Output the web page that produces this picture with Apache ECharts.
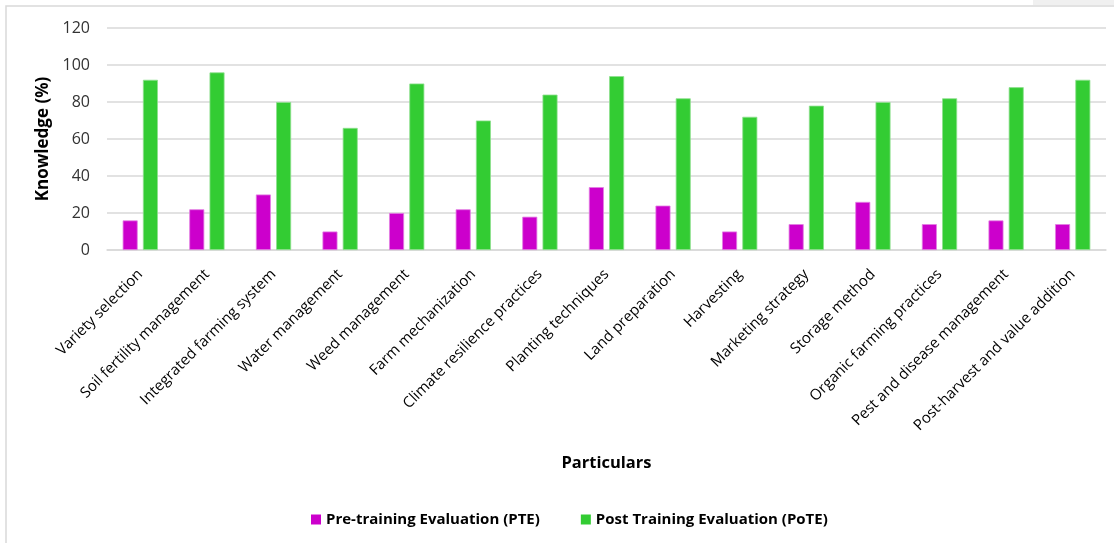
<!DOCTYPE html>
<html>
<head>
<meta charset="utf-8">
<script src="https://cdn.jsdelivr.net/npm/echarts@6/dist/echarts.min.js"></script>
<style>
  html, body { margin: 0; padding: 0; background: #fff; }
  #myChart { width: 1114px; height: 543px; }
</style>
</head>
<body>
<div id="myChart"></div>
<script>
const categories = ['Variety selection', 'Soil fertility management', 'Integrated farming system',
  'Water management', 'Weed management', 'Farm mechanization', 'Climate resilience practices',
  'Planting techniques', 'Land preparation', 'Harvesting', 'Marketing strategy', 'Storage method',
  'Organic farming practices', 'Pest and disease management', 'Post-harvest and value addition']
const pteValues = [16, 22, 30, 10, 20, 22, 18, 34, 24, 10, 14, 26, 14, 16, 14]
const poteValues = [92, 96, 80, 66, 90, 70, 84, 94, 82, 72, 78, 80, 82, 88, 92]
const seriesNames = ['Pre-training Evaluation (PTE)', 'Post Training Evaluation (PoTE)']

let myChart = echarts.init(document.getElementById('myChart'))
myChart.setOption({
  animation: false,
  textStyle: { fontFamily: 'Open Sans' },
  graphic: [
    {
      type: 'rect',
      shape: { x: 6, y: 6, width: 1130, height: 560 },
      style: { fill: 'none', stroke: '#d9d9d9', lineWidth: 1.5 },
      silent: true
    },
    {
      type: 'rect',
      shape: { x: 1033, y: 0, width: 90, height: 5 },
      style: { fill: '#f0f0f0' },
      silent: true
    }
  ],
  legend: {
    data: seriesNames,
    left: 306,
    top: 507,
    itemWidth: 10,
    itemHeight: 10,
    itemGap: 41,
    icon: 'rect',
    itemStyle: { borderWidth: 0 },
    textStyle: { color: '#000', fontSize: 15, fontWeight: 'bold', fontFamily: 'Open Sans' }
  },
  grid: {
    left: 107,
    right: 8,
    top: 28,
    bottom: 293
  },
  xAxis: {
    type: 'category',
    data: categories,
    name: 'Particulars',
    nameLocation: 'middle',
    nameGap: 205,
    nameTextStyle: { color: '#000', fontSize: 16.5, fontWeight: 'bold' },
    axisLine: { lineStyle: { color: '#d9d9d9', width: 1.5 } },
    axisTick: { show: false },
    axisLabel: { rotate: 45, margin: 22, color: '#000', fontSize: 15, interval: 0 }
  },
  yAxis: {
    type: 'value',
    min: 0,
    max: 120,
    interval: 20,
    name: 'Knowledge (%)',
    nameLocation: 'middle',
    nameGap: 55,
    nameTextStyle: { color: '#000', fontSize: 17, fontWeight: 'bold' },
    axisLine: { show: false },
    axisTick: { show: false },
    axisLabel: { color: '#333', fontSize: 16, margin: 17 },
    splitLine: { lineStyle: { color: '#d9d9d9', width: 1.5 } }
  },
  series: [
    {
      name: seriesNames[0],
      type: 'bar',
      barWidth: 15,
      barGap: '35%',
      itemStyle: { color: '#cc00cc', borderColor: '#e27de2', borderWidth: 0.8 },
      data: pteValues
    },
    {
      name: seriesNames[1],
      type: 'bar',
      barWidth: 15,
      barGap: '35%',
      itemStyle: { color: '#33cc33', borderColor: '#8ee08e', borderWidth: 0.8 },
      data: poteValues
    }
  ]
})
</script>
</body>
</html>
